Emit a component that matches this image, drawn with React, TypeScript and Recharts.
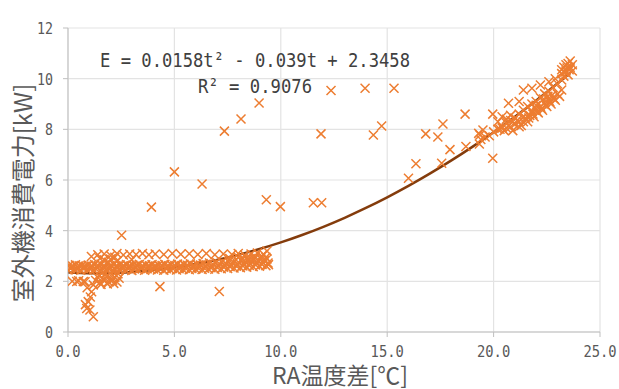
import React from 'react';
import { ComposedChart, Scatter, Line, XAxis, YAxis, CartesianGrid } from 'recharts';

type P = [number, number];

const xTicks = [0, 5, 10, 15, 20, 25];
const yTicks = [0, 2, 4, 6, 8, 10, 12];

const xTitle = 'RA温度差[℃]';
const yTitle = '室外機消費電力[kW]';
const eqLine1 = 'E = 0.0158t² - 0.039t + 2.3458';
const eqLine2 = 'R² = 0.9076';

const bandRowA: P[] = [
  [0, 2.45], [0.3, 2.47], [0.6, 2.44], [0.9, 2.46], [1.2, 2.45], [1.5, 2.43], [1.8, 2.46], [2.1, 2.44],
  [2.4, 2.47], [2.7, 2.45], [3.0, 2.43], [3.3, 2.46], [3.6, 2.44], [3.9, 2.47], [4.2, 2.45], [4.5, 2.44],
  [4.8, 2.46], [5.1, 2.45], [5.4, 2.47], [5.7, 2.46], [6.0, 2.48], [6.3, 2.47], [6.6, 2.49], [6.9, 2.48],
  [7.2, 2.5], [7.5, 2.51], [7.8, 2.53], [8.1, 2.54], [8.4, 2.56], [8.7, 2.58], [9.0, 2.6], [9.3, 2.62],
];
const bandRowA2: P[] = [
  [0.12, 2.5], [0.42, 2.49], [0.72, 2.51], [1.02, 2.5], [1.32, 2.49], [1.62, 2.51], [1.92, 2.5], [2.22, 2.49],
  [2.52, 2.51], [2.82, 2.5], [3.12, 2.49], [3.42, 2.51], [3.72, 2.5], [4.02, 2.49], [4.32, 2.51], [4.62, 2.5],
  [4.92, 2.51], [5.22, 2.5], [5.52, 2.52], [5.82, 2.51], [6.12, 2.53], [6.42, 2.52], [6.72, 2.54], [7.02, 2.55],
  [7.32, 2.56], [7.62, 2.58], [7.92, 2.6], [8.22, 2.61], [8.52, 2.63], [8.82, 2.65], [9.12, 2.67], [9.42, 2.66],
];
const bandRowB: P[] = [
  [0.15, 2.56], [0.45, 2.54], [0.75, 2.57], [1.05, 2.55], [1.35, 2.58], [1.65, 2.56], [1.95, 2.54], [2.25, 2.57],
  [2.55, 2.55], [2.85, 2.58], [3.15, 2.56], [3.45, 2.54], [3.75, 2.57], [4.05, 2.55], [4.35, 2.58], [4.65, 2.56],
  [4.95, 2.57], [5.25, 2.55], [5.55, 2.58], [5.85, 2.57], [6.15, 2.59], [6.45, 2.58], [6.75, 2.6], [7.05, 2.62],
  [7.35, 2.63], [7.65, 2.65], [7.95, 2.67], [8.25, 2.69], [8.55, 2.71], [8.85, 2.73], [9.15, 2.75], [9.4, 2.72],
];
const bandRowB2: P[] = [
  [0.22, 2.6], [0.52, 2.61], [0.82, 2.59], [1.12, 2.6], [1.42, 2.62], [1.72, 2.6], [2.02, 2.61], [2.32, 2.6],
  [2.62, 2.61], [2.92, 2.6], [3.22, 2.62], [3.52, 2.6], [3.82, 2.61], [4.12, 2.6], [4.42, 2.62], [4.72, 2.61],
  [5.02, 2.62], [5.32, 2.61], [5.62, 2.63], [5.92, 2.62], [6.22, 2.64], [6.52, 2.65], [6.82, 2.67], [7.12, 2.69],
  [7.42, 2.7], [7.72, 2.72], [8.02, 2.74], [8.32, 2.76], [8.62, 2.78], [8.92, 2.8], [9.22, 2.82],
];
const bandRowC: P[] = [
  [0.05, 2.63], [0.35, 2.65], [0.65, 2.62], [0.95, 2.64], [1.25, 2.66], [1.55, 2.68], [1.85, 2.7], [2.15, 2.67],
  [2.45, 2.65], [2.75, 2.66], [3.05, 2.64], [3.35, 2.67], [3.65, 2.65], [3.95, 2.66], [4.25, 2.64], [4.55, 2.67],
  [4.85, 2.66], [5.15, 2.68], [5.45, 2.67], [5.75, 2.69], [6.05, 2.68], [6.35, 2.7], [6.65, 2.72], [6.95, 2.74],
  [7.25, 2.76], [7.55, 2.78], [7.85, 2.8], [8.15, 2.82], [8.45, 2.85], [8.75, 2.87], [9.05, 2.9], [9.35, 2.88],
];
const bandUpper: P[] = [
  [1.1, 2.98], [1.4, 3.05], [1.7, 3.08], [2.0, 3.02], [2.3, 3.1], [2.6, 3.04], [2.9, 3.08], [3.2, 3.06],
  [3.5, 3.1], [3.8, 3.05], [4.1, 3.08], [4.5, 3.06], [4.9, 3.1], [5.3, 3.07], [5.7, 3.09], [6.1, 3.06],
  [6.5, 3.1], [6.9, 3.05], [7.3, 3.08], [7.7, 3.06], [8.0, 3.1], [8.3, 3.04], [8.6, 3.08], [8.9, 3.12],
  [9.2, 3.06], [9.35, 3.2],
];
const bandMid: P[] = [
  [7.6, 2.9], [8.0, 2.95], [8.4, 2.93], [8.8, 2.97], [9.1, 3.0], [3.0, 2.85], [2.0, 2.88], [1.7, 2.85],
  [2.3, 2.8], [1.5, 2.9], [2.2, 2.95], [1.9, 2.75], [8.2, 2.88], [8.6, 2.9], [9.3, 2.95],
];
const bandUnder: P[] = [
  [0.2, 2.0], [0.5, 2.02], [0.8, 1.98], [1.3, 2.03], [1.5, 1.95], [1.7, 2.05], [1.9, 1.98], [2.1, 2.04],
  [2.3, 1.97], [1.4, 2.15], [1.6, 2.12], [1.8, 2.18], [2.0, 2.14], [2.2, 2.16], [2.4, 2.12],
  [1.45, 2.25], [1.75, 2.3], [2.05, 2.27], [2.35, 2.3], [1.55, 1.88], [1.85, 1.9], [2.15, 1.92],
];
const leftDrop: P[] = [
  [0.41, 1.99], [0.72, 1.99], [1.19, 1.86], [1.11, 1.59], [0.95, 1.2], [0.88, 0.93], [1.03, 0.87],
  [1.19, 0.6], [0.82, 1.08], [1.05, 1.38], [0.9, 1.75],
];
const outliers: P[] = [
  [2.52, 3.82], [3.92, 4.93], [4.32, 1.79], [5.0, 6.32], [6.3, 5.84], [7.11, 1.6], [7.35, 7.93],
  [8.13, 8.41], [8.98, 9.04], [9.32, 5.22], [9.98, 4.95], [11.53, 5.1], [11.92, 5.1], [11.89, 7.82],
  [12.36, 9.53], [13.96, 9.62], [15.32, 9.62], [14.35, 7.78], [14.74, 8.13], [16.0, 6.07], [16.35, 6.64],
  [16.81, 7.82], [17.38, 7.7], [17.62, 8.21], [17.56, 6.66], [17.95, 7.2], [18.7, 7.32], [18.66, 8.6],
  [19.33, 7.42], [19.96, 6.86], [19.96, 8.6],
];
const highBand: P[] = [
  [19.3, 7.84], [19.5, 7.97], [19.36, 7.78], [19.4, 7.6], [19.6, 7.7], [19.8, 7.75], [20.0, 7.9],
  [20.2, 8.0], [20.4, 8.1], [20.6, 8.25], [20.8, 8.35], [21.0, 8.45], [21.2, 8.6], [21.4, 8.75],
  [21.6, 8.9], [21.8, 9.0], [22.0, 9.1], [22.2, 9.25], [22.4, 9.4], [22.6, 9.5], [22.8, 9.65],
  [23.0, 9.8], [23.2, 9.95], [20.2, 8.3], [20.4, 8.5], [20.6, 8.4], [20.8, 8.55], [21.2, 9.1],
];
const highBlob: P[] = [
  [20.3, 8.0], [20.5, 7.95], [20.6, 8.05], [20.8, 8.1], [20.9, 7.95], [21.0, 8.2], [21.2, 8.3],
  [21.3, 8.15], [21.5, 8.45], [21.6, 8.3], [21.7, 8.55], [21.8, 8.7], [21.9, 8.5], [22.0, 8.8],
  [22.1, 8.65], [22.2, 8.9], [22.3, 8.75], [22.4, 9.05], [22.5, 8.9], [22.6, 9.15], [22.7, 9.0],
  [22.8, 9.25], [22.9, 9.15], [23.0, 9.4], [23.1, 9.3], [23.2, 9.55], [22.0, 8.95], [21.4, 8.5],
  [20.9, 8.3], [21.2, 8.1], [21.4, 8.3], [21.85, 8.6], [22.05, 8.7], [22.25, 8.82], [22.45, 8.95],
  [22.65, 9.08], [22.85, 9.2], [22.35, 9.2], [22.55, 9.3], [21.65, 8.45], [21.95, 8.85], [22.75, 9.35],
  [20.4, 8.05], [20.7, 8.15], [21.1, 8.35],
];
const highAbove: P[] = [
  [20.7, 9.03], [21.4, 9.55], [21.8, 9.62], [22.2, 9.75], [22.6, 9.88], [22.9, 10.0],
];
const topCluster: P[] = [
  [23.2, 10.2], [23.3, 10.45], [23.4, 10.3], [23.5, 10.6], [23.5, 10.15], [23.6, 10.45],
  [23.7, 10.3], [23.6, 10.7], [23.4, 10.55], [23.3, 10.1], [23.7, 10.55], [23.2, 10.35],
  [23.45, 10.42], [23.55, 10.35], [23.35, 10.25],
];

const trendT = [0, 1, 2, 3, 4, 5, 6, 7, 8, 9, 10, 11, 12, 13, 14, 15, 16, 17, 18, 19, 20, 21, 22, 23, 23.6];
const trendE = [
  2.346, 2.323, 2.331, 2.371, 2.443, 2.546, 2.681, 2.847, 3.045, 3.275, 3.536, 3.829, 4.153,
  4.509, 4.897, 5.316, 5.767, 6.249, 6.763, 7.309, 7.886, 8.495, 9.135, 9.807, 10.225,
];

const scatterData = [
  bandUnder, leftDrop, bandRowA, bandRowA2, bandRowB, bandRowB2, bandRowC, bandMid, bandUpper, outliers,
  highBand, highBlob, highAbove, topCluster,
].flatMap((arr) => arr.map(([x, y]) => ({ x, y })));
const trendData = trendT.map((t, i) => ({ x: t, y: trendE[i] }));

const ORANGE = '#ED7D31';
const GREY_TEXT = '#595959';
const AXIS = '#BFBFBF';
const GRID = '#E3E3E3';

const XMark = (props: any) => {
  const { cx, cy } = props;
  if (cx == null || cy == null) return null;
  const r = 4.5;
  return (
    <path
      d={`M${cx - r},${cy - r}L${cx + r},${cy + r}M${cx - r},${cy + r}L${cx + r},${cy - r}`}
      stroke={ORANGE}
      strokeWidth={1.5}
      fill="none"
    />
  );
};

const XTick = (props: any) => {
  const { x, y, payload } = props;
  const s = Number(payload.value).toFixed(1);
  return (
    <text
      x={x}
      y={y + 20}
      textAnchor="middle"
      fill={GREY_TEXT}
      fontFamily="DejaVu Sans Mono"
      fontSize={16}
      textLength={s.length * 8.3}
      lengthAdjust="spacingAndGlyphs"
    >
      {s}
    </text>
  );
};

const YTick = (props: any) => {
  const { x, y, payload } = props;
  const s = String(payload.value);
  return (
    <text
      x={x}
      y={y + 6}
      textAnchor="end"
      fill={GREY_TEXT}
      fontFamily="DejaVu Sans Mono"
      fontSize={16}
      textLength={s.length * 8}
      lengthAdjust="spacingAndGlyphs"
    >
      {s}
    </text>
  );
};

export default function App() {
  return (
    <div style={{ position: 'absolute', left: 0, top: 0, width: 619, height: 389, background: '#fff' }}>
      <ComposedChart
        width={619}
        height={389}
        margin={{ top: 28, right: 19, bottom: 0, left: 0 }}
      >
        <CartesianGrid stroke={GRID} strokeWidth={1.2} />
        <XAxis
          type="number"
          dataKey="x"
          domain={[0, 25]}
          ticks={xTicks}
          height={57}
          stroke={AXIS}
          tickSize={5}
          tickMargin={0}
          tick={<XTick />}
          allowDataOverflow
        />
        <YAxis
          type="number"
          dataKey="y"
          domain={[0, 12]}
          ticks={yTicks}
          width={68}
          stroke={AXIS}
          tickSize={5}
          tickMargin={10}
          tick={<YTick />}
          allowDataOverflow
        />
        <Scatter data={scatterData} dataKey="y" shape={<XMark />} isAnimationActive={false} />
        <Line
          data={trendData}
          dataKey="y"
          type="monotone"
          stroke="#843C0C"
          strokeWidth={2.5}
          dot={false}
          activeDot={false}
          isAnimationActive={false}
        />
      </ComposedChart>
      <svg
        width={619}
        height={389}
        style={{ position: 'absolute', left: 0, top: 0, pointerEvents: 'none' }}
      >
        <text
          x={100}
          y={67}
          fill="#404040"
          fontFamily="DejaVu Sans Mono"
          fontSize={20}
          textLength={310}
          lengthAdjust="spacingAndGlyphs"
        >
          {eqLine1}
        </text>
        <text
          x={198}
          y={93}
          fill="#404040"
          fontFamily="DejaVu Sans Mono"
          fontSize={20}
          textLength={114}
          lengthAdjust="spacingAndGlyphs"
        >
          {eqLine2}
        </text>
        <text
          x={340}
          y={384}
          textAnchor="middle"
          fill={GREY_TEXT}
          fontFamily="Noto Sans CJK JP"
          fontSize={23}
        >
          {xTitle}
        </text>
        <text
          x={32}
          y={193}
          textAnchor="middle"
          fill={GREY_TEXT}
          fontFamily="Noto Sans CJK JP"
          fontSize={24}
          transform="rotate(-90 32 193)"
        >
          {yTitle}
        </text>
      </svg>
    </div>
  );
}
